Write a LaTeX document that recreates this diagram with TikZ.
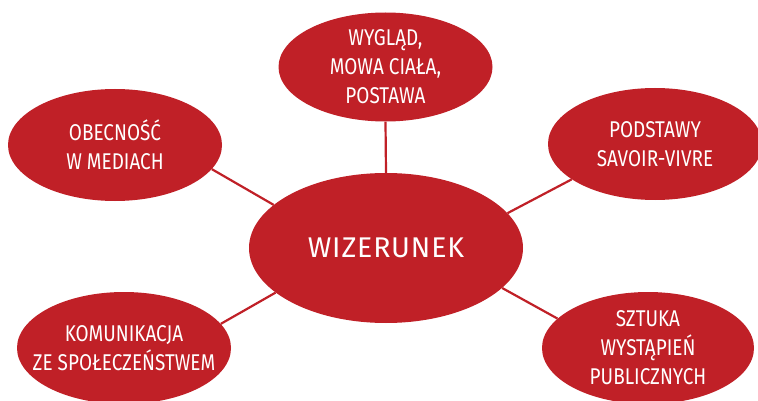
\documentclass[tikz,border=0pt]{standalone}
\usepackage{fontspec}
\setmainfont{Fira Sans}
\newfontfamily\condf{Fira Sans}[FakeStretch=0.83]
\newfontfamily\hubf{Fira Sans}[LetterSpace=3]
\usetikzlibrary{shapes.geometric}
\definecolor{wred}{RGB}{192,32,39}
\tikzset{
  bubble/.style={ellipse, fill=wred, inner xsep=-30pt, inner ysep=-10pt,
    text=white, align=center,
    minimum width=214pt, minimum height=112pt,
    font=\condf\fontsize{22.8}{29}\selectfont},
  hub/.style={ellipse, fill=wred, inner sep=0pt, text=white,
    minimum width=274pt, minimum height=150pt,
    font=\hubf\fontsize{28.5}{30}\selectfont},
  link/.style={draw=wred, line width=2.2pt}
}
\begin{document}
\begin{tikzpicture}[x=1pt,y=-1pt]
\useasboundingbox (0,0) rectangle (758,401);
\node[hub] (c) at (386,248) {WIZERUNEK};
\node[bubble, minimum height=109pt] (t) at (385.5,67) {WYGLĄD,\\MOWA CIAŁA,\\POSTAWA};
\node[bubble] (tl) at (115,145) {OBECNOŚĆ\\W MEDIACH};
\node[bubble] (tr) at (655,144) {PODSTAWY\\SAVOIR-VIVRE};
\node[bubble] (bl) at (124,348) {KOMUNIKACJA\\ZE SPOŁECZEŃSTWEM};
\node[bubble, minimum width=212pt] (br) at (648,348) {SZTUKA\\WYSTĄPIEŃ\\PUBLICZNYCH};
\draw[link] (c.90) -- (t.-90);
\draw[link] (c.159.2) -- (tl.-14.3);
\draw[link] (c.16.2) -- (tr.-157.7);
\draw[link] (c.-158.9) -- (bl.14.2);
\draw[link] (c.-19.8) -- (br.162.8);
\end{tikzpicture}
\end{document}
